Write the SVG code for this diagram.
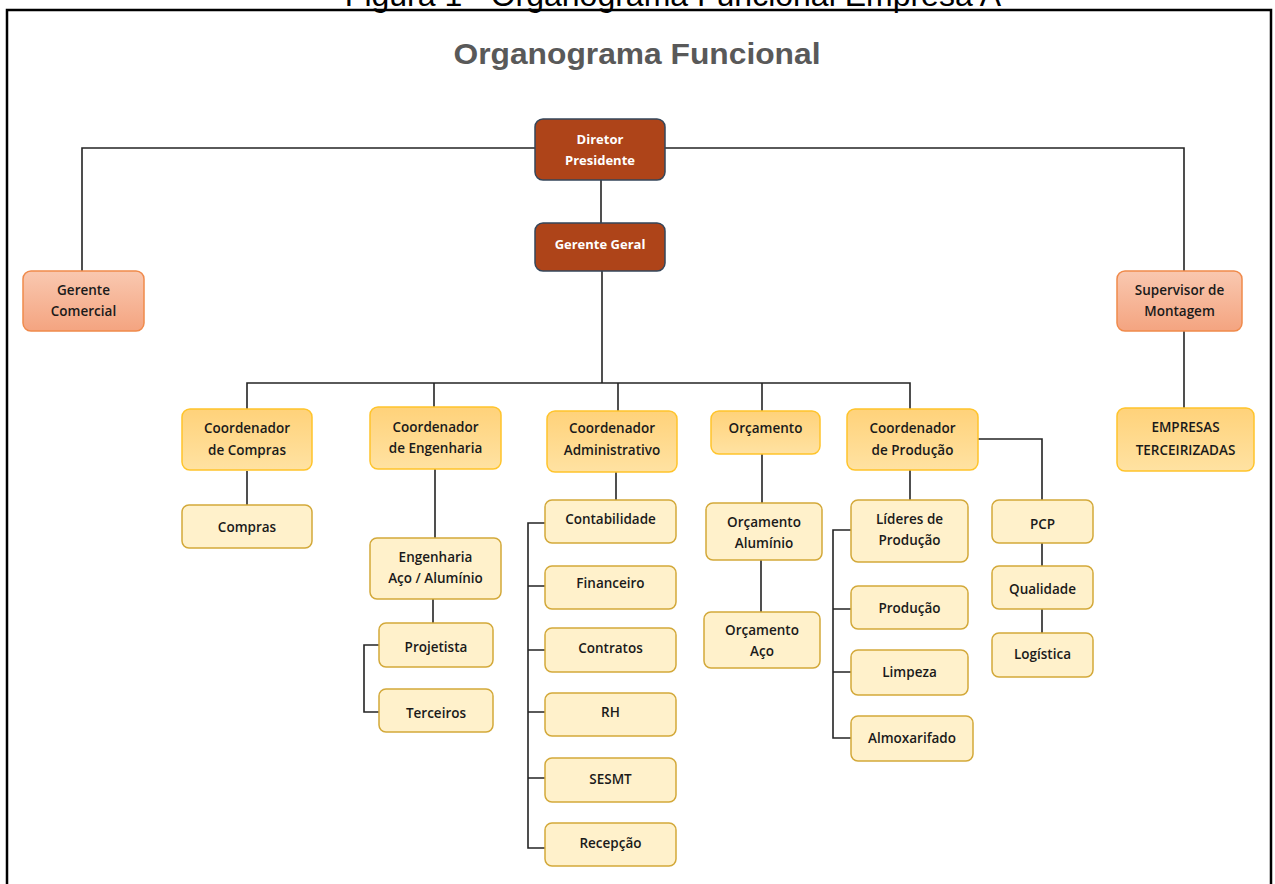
<svg xmlns="http://www.w3.org/2000/svg" width="1275" height="884" viewBox="0 0 1275 884">
<defs>
<linearGradient id="gSal" x1="0" y1="0" x2="0" y2="1"><stop offset="0" stop-color="#F9C8B0"/><stop offset="1" stop-color="#F4A480"/></linearGradient>
<linearGradient id="gGold" x1="0" y1="0" x2="0" y2="1"><stop offset="0" stop-color="#FFD27A"/><stop offset="1" stop-color="#FFE2A2"/></linearGradient>
<style>
.dark{fill:#AE4419;stroke:#34465A;stroke-width:1.5}
.sal{fill:url(#gSal);stroke:#F08A4B;stroke-width:1.5}
.gold{fill:url(#gGold);stroke:#FFC42B;stroke-width:1.5}
.cream{fill:#FFF1CB;stroke:#D3A93A;stroke-width:1.5}
text{font-family:"Open Sans","Noto Sans",sans-serif;font-size:13.5px;font-weight:600;text-anchor:middle;fill:#1A1A1A}
.w{fill:#FFFFFF;font-weight:bold;font-size:13px}
.con{fill:none;stroke:#242424;stroke-width:1.6}
</style>
</defs>
<rect width="1275" height="884" fill="#FFFFFF"/>
<text x="673" y="6" style="font-family:'Liberation Sans',Arial,sans-serif;font-size:32px;font-weight:normal;fill:#000">Figura 1 - Organograma Funcional Empresa A</text>
<path d="M7,884 V10 H1271 V884" fill="none" stroke="#000" stroke-width="2.5"/>
<text x="637" y="64" textLength="367" lengthAdjust="spacingAndGlyphs" style="font-family:'Liberation Sans',Arial,sans-serif;font-size:30px;font-weight:bold;fill:#595959">Organograma Funcional</text>

<g id="connectors" class="con">
<path d="M560,148 H82 V271"/>
<path d="M640,148 H1184 V271"/>
<path d="M601,180 V223"/>
<path d="M602,271 V383"/>
<path d="M247,409 V383 H910 V409"/>
<path d="M434,383 V407"/>
<path d="M618,383 V411"/>
<path d="M762,383 V411"/>
<path d="M247,471 V505"/>
<path d="M435,469 V538"/>
<path d="M433,599 V623"/>
<path d="M379,645 H364 V712 H379"/>
<path d="M616,472 V500"/>
<path d="M545,523 H528 V848 H545"/>
<path d="M528,586 H545 M528,650 H545 M528,712 H545 M528,778 H545"/>
<path d="M762,454 V503"/>
<path d="M761,560 V612"/>
<path d="M910,470 V500"/>
<path d="M851,530 H833 V738 H851"/>
<path d="M833,609 H851 M833,672 H851"/>
<path d="M978,439 H1042 V500"/>
<path d="M1042,543 V566"/>
<path d="M1042,609 V633"/>
<path d="M1184,331 V408"/>
</g>

<g id="diretor"><rect class="dark" x="535" y="119" width="130" height="61" rx="8"/><text class="w" x="600" y="144">Diretor</text><text class="w" x="600" y="165">Presidente</text></g>
<g id="gerente-geral"><rect class="dark" x="535" y="223" width="130" height="48" rx="8"/><text class="w" x="600" y="249">Gerente Geral</text></g>
<g id="gerente-comercial"><rect class="sal" x="23" y="271" width="121" height="60" rx="8"/><text x="83.5" y="295">Gerente</text><text x="83.5" y="316">Comercial</text></g>
<g id="supervisor-montagem"><rect class="sal" x="1117" y="271" width="125" height="60" rx="8"/><text x="1179.5" y="295">Supervisor de</text><text x="1179.5" y="316">Montagem</text></g>

<g id="coord-compras"><rect class="gold" x="182" y="409" width="130" height="61" rx="8"/><text x="247" y="433">Coordenador</text><text x="247" y="455">de Compras</text></g>
<g id="coord-engenharia"><rect class="gold" x="370" y="407" width="131" height="62" rx="8"/><text x="435.5" y="432">Coordenador</text><text x="435.5" y="453">de Engenharia</text></g>
<g id="coord-administrativo"><rect class="gold" x="547" y="411" width="130" height="61" rx="8"/><text x="612" y="433">Coordenador</text><text x="612" y="455">Administrativo</text></g>
<g id="orcamento"><rect class="gold" x="711" y="411" width="109" height="43" rx="8"/><text x="765.5" y="433">Orçamento</text></g>
<g id="coord-producao"><rect class="gold" x="847" y="409" width="131" height="61" rx="8"/><text x="912.5" y="433">Coordenador</text><text x="912.5" y="455">de Produção</text></g>
<g id="empresas-terceirizadas"><rect class="gold" x="1117" y="408" width="137" height="63" rx="8"/><text x="1185.5" y="432">EMPRESAS</text><text x="1185.5" y="455">TERCEIRIZADAS</text></g>

<g id="compras"><rect class="cream" x="182" y="505" width="130" height="43" rx="7"/><text x="247" y="532">Compras</text></g>
<g id="engenharia"><rect class="cream" x="370" y="538" width="131" height="61" rx="7"/><text x="435.5" y="562">Engenharia</text><text x="435.5" y="583">Aço / Alumínio</text></g>
<g id="projetista"><rect class="cream" x="379" y="623" width="114" height="44" rx="7"/><text x="436" y="652">Projetista</text></g>
<g id="terceiros"><rect class="cream" x="379" y="689" width="114" height="43" rx="7"/><text x="436" y="718">Terceiros</text></g>

<g id="contabilidade"><rect class="cream" x="545" y="500" width="131" height="43" rx="7"/><text x="610.5" y="524">Contabilidade</text></g>
<g id="financeiro"><rect class="cream" x="545" y="566" width="131" height="43" rx="7"/><text x="610.5" y="588">Financeiro</text></g>
<g id="contratos"><rect class="cream" x="545" y="628" width="131" height="44" rx="7"/><text x="610.5" y="653">Contratos</text></g>
<g id="rh"><rect class="cream" x="545" y="693" width="131" height="43" rx="7"/><text x="610.5" y="717">RH</text></g>
<g id="sesmt"><rect class="cream" x="545" y="758" width="131" height="44" rx="7"/><text x="610.5" y="784">SESMT</text></g>
<g id="recepcao"><rect class="cream" x="545" y="823" width="131" height="43" rx="7"/><text x="610.5" y="848">Recepção</text></g>

<g id="orcamento-aluminio"><rect class="cream" x="706" y="503" width="116" height="57" rx="7"/><text x="764" y="527">Orçamento</text><text x="764" y="548">Alumínio</text></g>
<g id="orcamento-aco"><rect class="cream" x="704" y="612" width="116" height="56" rx="7"/><text x="762" y="635">Orçamento</text><text x="762" y="656">Aço</text></g>

<g id="lideres-producao"><rect class="cream" x="851" y="500" width="117" height="62" rx="7"/><text x="909.5" y="524">Líderes de</text><text x="909.5" y="545">Produção</text></g>
<g id="producao"><rect class="cream" x="851" y="586" width="117" height="43" rx="7"/><text x="909.5" y="613">Produção</text></g>
<g id="limpeza"><rect class="cream" x="851" y="650" width="117" height="45" rx="7"/><text x="909.5" y="677">Limpeza</text></g>
<g id="almoxarifado"><rect class="cream" x="851" y="716" width="122" height="45" rx="7"/><text x="912" y="743">Almoxarifado</text></g>

<g id="pcp"><rect class="cream" x="992" y="500" width="101" height="43" rx="7"/><text x="1042.5" y="529">PCP</text></g>
<g id="qualidade"><rect class="cream" x="992" y="566" width="101" height="43" rx="7"/><text x="1042.5" y="594">Qualidade</text></g>
<g id="logistica"><rect class="cream" x="992" y="633" width="101" height="44" rx="7"/><text x="1042.5" y="659">Logística</text></g>
</svg>
